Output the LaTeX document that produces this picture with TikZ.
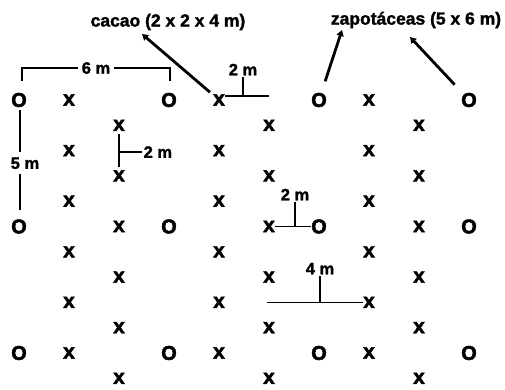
\documentclass[tikz,border=0pt]{standalone}
\usepackage{fontspec}
\setmainfont{Liberation Sans}
\newfontfamily\heavyfont[FakeBold=1.6]{Liberation Sans Bold}
\newfontfamily\markfont[FakeBold=2.2]{Liberation Sans Bold}
\usetikzlibrary{arrows.meta}
\begin{document}
\begin{tikzpicture}[x=1pt,y=-1pt,
  plantx/.style={font=\fontsize{21}{21}\markfont, inner sep=0pt},
  planto/.style={font=\fontsize{20}{20}\markfont, inner sep=0pt},
  title/.style={font=\fontsize{17.5}{17.5}\heavyfont, inner sep=1pt},
  dimtext/.style={font=\fontsize{16.5}{16.5}\heavyfont, inner sep=1pt},
  dim/.style={line width=1.3pt},
  arr/.style={line width=2.8pt, -{Triangle[length=6pt,width=7pt]}}
]
\useasboundingbox (0,0) rectangle (505,389);
% plants
\foreach \k in {0,5,10} \foreach \c in {0,3,6,9}
  \node[planto] (o-\k-\c) at ({19+50*\c},{100+25.3*\k}) {O};
\foreach \k in {0,2,...,10} \foreach \c in {1,4,7}
  \node[plantx] (x-\k-\c) at ({19+50*\c},{100+25.3*\k}) {x};
\foreach \k in {1,3,...,11} \foreach \c in {2,5,8}
  \node[plantx] (x-\k-\c) at ({19+50*\c},{100+25.3*\k}) {x};
% titles
\node[title] (cacao) at (168,22) {cacao (2 x 2 x 4 m)};
\node[title] (zapo) at (416,20) {zapotáceas (5 x 6 m)};
\coordinate (ct) at (142,34);
\coordinate (zt1) at (342,30);
\coordinate (zt2) at (410,37);
\draw[arr, shorten <=4pt] (x-0-4) -- (ct);
\draw[arr, shorten <=12pt] (o-0-6) -- (zt1);
\draw[arr, shorten <=11pt] (o-0-9) -- (zt2);
% 6 m
\draw[dim] (22,81) -- (22,68) -- node[fill=white, dimtext, inner xsep=4pt] (d6) {6 m} (170,68) -- (170,81);
% 5 m
\draw[dim, shorten <=3pt, shorten >=9pt] (o-0-0.south -| 20,0) -- node[fill=white, dimtext, inner ysep=5pt, xshift=5pt] (d5) {5 m} (o-5-0.north -| 20,0);
% 2 m (column 2)
\draw[dim, shorten <=3pt, shorten >=3pt] (x-1-2.south) -- (x-3-2.north);
\draw[dim] (120,152) -- (142,152) node[right, dimtext, inner xsep=1pt] (d2a) {2 m};
% 2 m top
\draw[dim] ([yshift=4pt]x-0-4.east) -- ++(44,0);
\draw[dim] (243,96) -- (243,77) node[above, dimtext] (d2b) {2 m};
% 2 m middle
\draw[dim] (x-5-5.east) -- (o-5-6.west);
\draw[dim] (295,226.5) -- (295,202) node[above, dimtext] (d2c) {2 m};
% 4 m
\draw[dim] (x-8-7.west) -- ++(-96,0);
\draw[dim] (320,302) -- (320,276) node[above, dimtext] (d4) {4 m};
\end{tikzpicture}
\end{document}
